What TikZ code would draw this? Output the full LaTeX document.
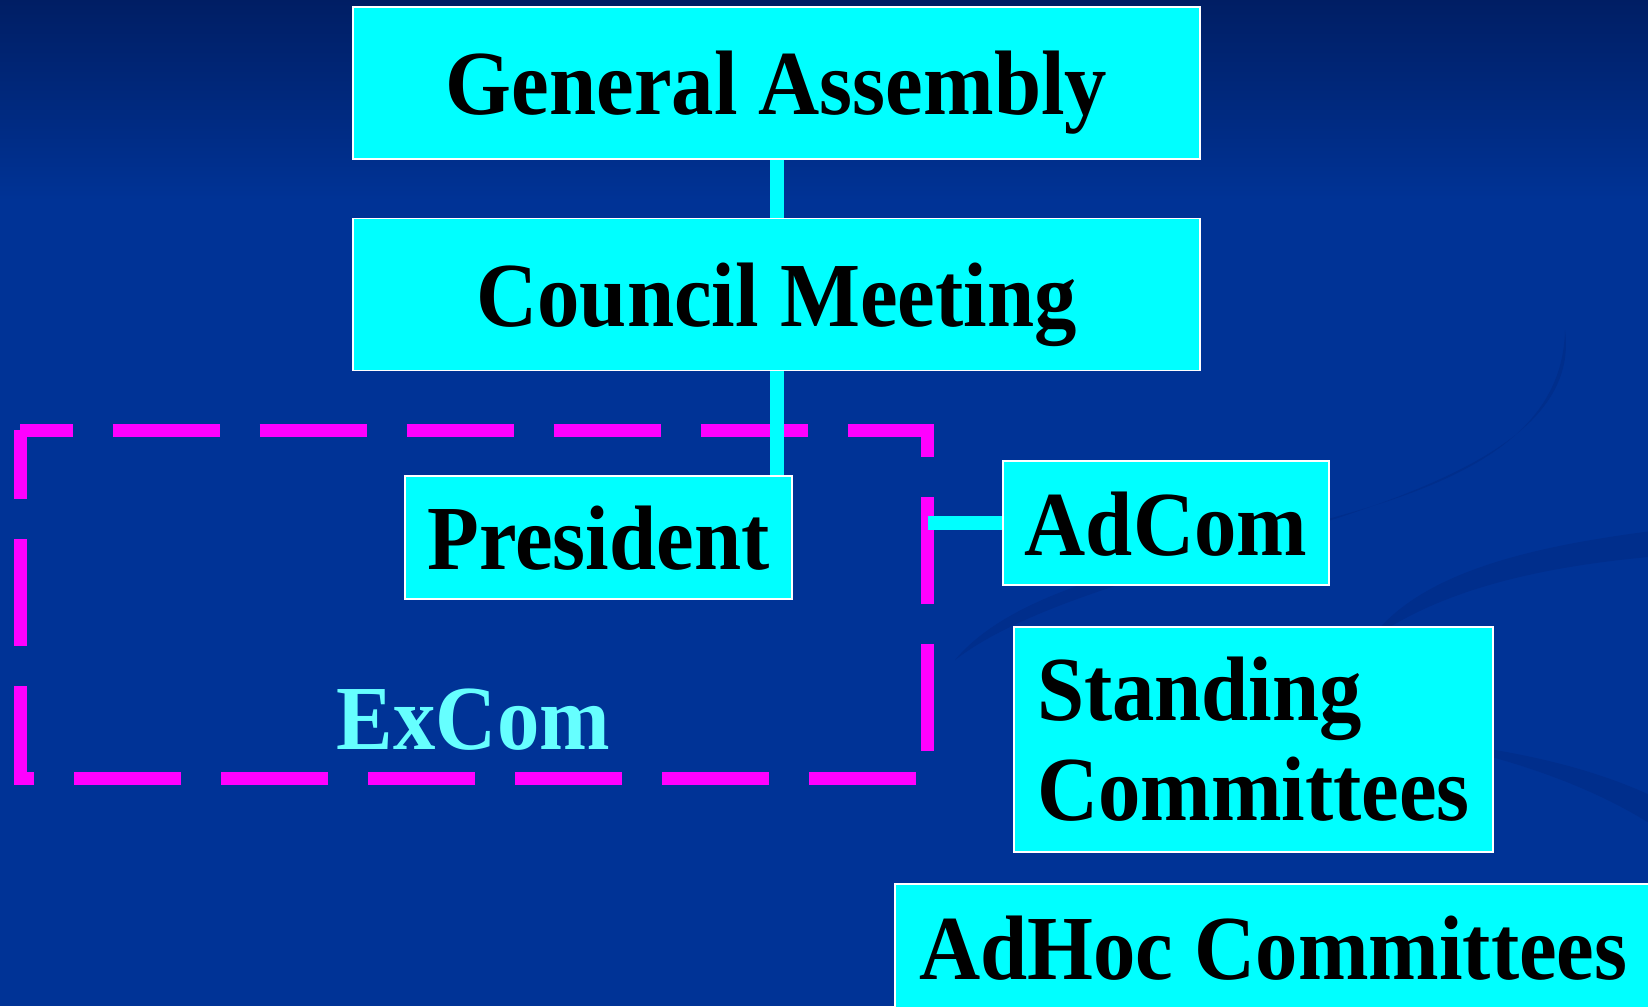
\documentclass[tikz,border=0pt]{standalone}
\usepackage{fontspec}
\newfontfamily\orgfont{Liberation Serif}[FakeStretch=0.925]
\usetikzlibrary{shapes,arrows}
\definecolor{bgblue}{RGB}{0,51,150}
\definecolor{topblue}{RGB}{0,30,100}
\definecolor{swirlblue}{RGB}{0,46,140}
\definecolor{boxcyan}{RGB}{0,255,255}
\definecolor{excomcyan}{RGB}{102,255,255}
\definecolor{dashmagenta}{RGB}{255,0,255}

\begin{document}
\begin{tikzpicture}[x=0.5pt,y=-0.5pt]
\tikzset{
block/.style={rectangle, draw=white, line width=0.75pt, fill=boxcyan, text=black,
font=\orgfont\bfseries\fontsize{45.8}{50}\selectfont, inner sep=0pt, text height=32pt, text depth=0pt},
wideblock/.style={block, minimum width=423.5pt, minimum height=76pt},
mylink/.style={boxcyan, line width=7pt},
dashbox/.style={dashmagenta, line width=6.5pt, dash pattern=on 53.5pt off 20pt, dash phase=27.25pt},
mylabel/.style={text=excomcyan, font=\orgfont\bfseries\fontsize{45.8}{50}\selectfont, inner sep=0pt},
swirl/.style={fill=swirlblue},
}

\useasboundingbox (0,0) rectangle (1648,1006);
\fill[bgblue] (0,0) rectangle (1648,1006);
\shade[top color=topblue, bottom color=bgblue] (0,0) rectangle (1648,200);
% faint swirls of the slide background
\fill[swirl] (955,660) .. controls (1080,510) and (1560,560) .. (1565,330)
  .. controls (1590,520) and (1110,540) .. (955,660) -- cycle;
\fill[swirl] (1370,640) .. controls (1420,570) and (1540,545) .. (1660,530)
  -- (1660,556) .. controls (1540,566) and (1440,590) .. (1370,640) -- cycle;
\fill[swirl] (1420,740) .. controls (1520,750) and (1600,770) .. (1660,800)
  -- (1660,830) .. controls (1600,790) and (1520,760) .. (1420,740) -- cycle;

\node [wideblock] (ga) at (776.5,83) {General Assembly};
\node [wideblock, below of=ga, node distance=105.75pt] (cm) {Council Meeting};
\node [block, minimum width=193.5pt, minimum height=61.5pt, below of=cm, node distance=121.5pt, xshift=-89pt] (pres) {President};
\node [block, minimum width=163pt, minimum height=62pt, right of=pres, node distance=283.75pt, yshift=7.25pt] (adcom) {AdCom};
\node [block, minimum width=239.5pt, minimum height=112.5pt, text height=, text depth=, text width=216.5pt, align=left,
below of=adcom, node distance=108.25pt, xshift=43.75pt] (standing) {Standing\\Committees};
\node [block, minimum width=378.5pt, minimum height=63pt, below of=standing, node distance=103.75pt, xshift=10pt] (adhoc) {AdHoc Committees};

% ExCom frame
\node [minimum width=453.5pt, minimum height=174pt, inner sep=0pt] (excom) at (474,604.5) {};
\draw[dashbox] (excom.north west) -- (excom.north east) -- (excom.south east) -- (excom.south west) -- cycle;
\node [mylabel, anchor=base] (excomlabel) at (473.5,749) {ExCom};

\draw[mylink] (ga) -- (cm);
\draw[mylink] (cm.south) -- (cm.south |- pres.north);
\draw[mylink] (adcom.west) -- (adcom.west -| excom.east);
\end{tikzpicture}
\end{document}
